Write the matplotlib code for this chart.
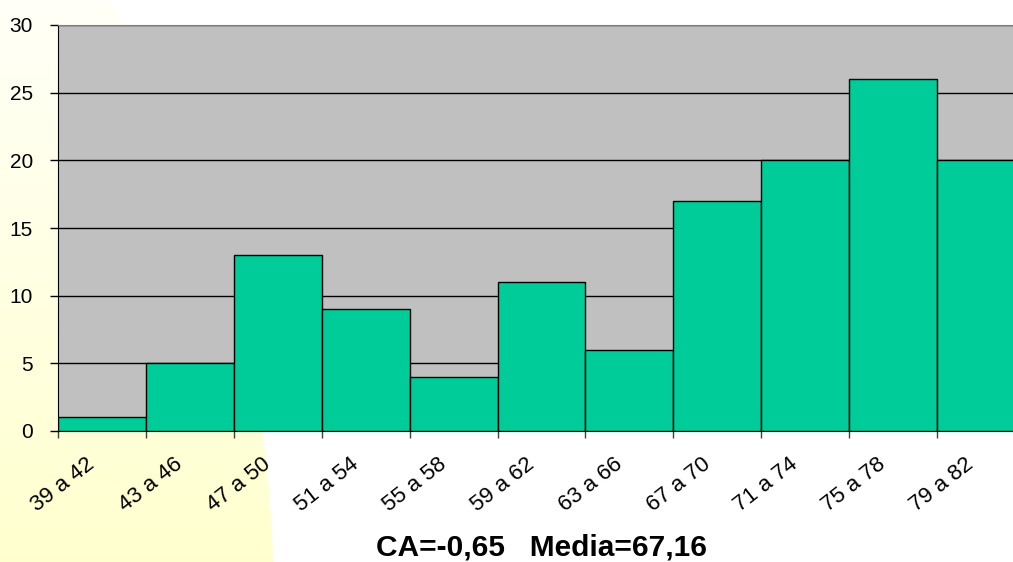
import matplotlib.pyplot as plt
import numpy as np
from matplotlib.patches import Polygon

plt.rcParams['font.family'] = ['Liberation Sans', 'DejaVu Sans']

# clases y frecuencias
clases = ["39 a 42", "43 a 46", "47 a 50", "51 a 54", "55 a 58", "59 a 62",
          "63 a 66", "67 a 70", "71 a 74", "75 a 78", "79 a 82"]
frecuencias = [1, 5, 13, 9, 4, 11, 6, 17, 20, 26, 20]
titulo = "CA=-0,65   Media=67,16"

W, H = 1013, 562
fig = plt.figure(figsize=(W / 100, H / 100), dpi=100)

# fondo amarillo de la diapositiva
bg = fig.add_axes([0, 0, 1, 1])
bg.set_xlim(0, W)
bg.set_ylim(H, 0)
bg.axis("off")
grad = np.linspace(0, 1, 256)
cols = np.ones((256, 1, 3))
cols[:, 0, 2] = 0.97 - 0.16 * grad
im = bg.imshow(cols, extent=[0, W, H, 0], aspect="auto")
yy = np.linspace(0, H, 60)
xx = 110 + 0.5587 * yy - 0.000478 * yy ** 2
poly = Polygon(np.vstack([[0, 0], np.column_stack([xx, yy]), [0, H]]),
               closed=True, transform=bg.transData, facecolor="none", edgecolor="none")
bg.add_patch(poly)
im.set_clip_path(poly)

ax = fig.add_axes([58 / W, 131 / H, (W - 58) / W, 406 / H])
ax.set_facecolor("#C0C0C0")
x = np.arange(len(frecuencias))
ax.bar(x, frecuencias, width=1.0, color="#00CC99", edgecolor="black", linewidth=1, zorder=3)
ax.set_xlim(-0.5, -0.5 + (W - 58) / 87.9)
ax.set_ylim(0, 30)
ax.set_yticks(range(0, 31, 5))
ax.yaxis.grid(True, color="black", linewidth=1, zorder=0)
ax.set_axisbelow(True)

ax.set_xticks(np.arange(len(frecuencias)) - 0.5)
ax.set_xticklabels([])
for xi, lab in zip(x, clases):
    ax.annotate(lab, xy=(xi, 0), xycoords=("data", "axes fraction"),
                xytext=(-11.5, -16.5), textcoords="offset points",
                rotation=38, ha="right", va="top", rotation_mode="anchor",
                fontsize=16, annotation_clip=False)
ax.tick_params(axis="x", which="major", length=5, width=1, direction="out", color="#404040")
ax.tick_params(axis="y", length=6, width=1, labelsize=15, pad=12, direction="out")

ax.spines["right"].set_visible(False)
ax.spines["top"].set_color("#808080")
ax.spines["left"].set_color("black")
ax.spines["bottom"].set_color("black")

fig.text(541 / W, 1 - 548 / H, titulo, ha="center", va="center",
         fontsize=21.5, fontweight="bold")

fig.savefig("out.png", dpi=100)
